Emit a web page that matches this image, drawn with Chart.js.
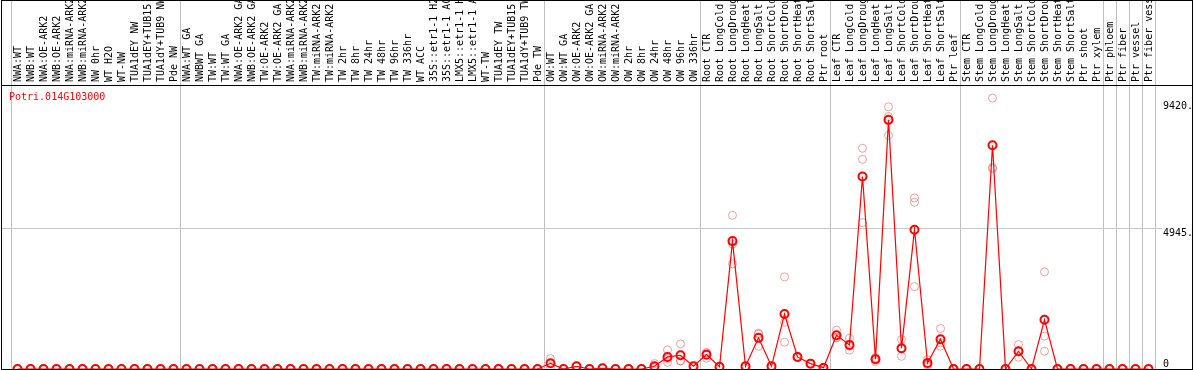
<!DOCTYPE html>
<html>
<head>
<meta charset="utf-8">
<script src="https://cdn.jsdelivr.net/npm/chart.js@4.4.1/dist/chart.umd.min.js"></script>
<style>
  html, body { margin: 0; padding: 0; background: #fff; }
  #wrap { width: 1194px; height: 370px; position: relative; }
</style>
</head>
<body>
<div id="wrap"><canvas id="exprChart"></canvas></div>
<script>
const geneName = "Potri.014G103000";

const samples = [
  "NWA:WT", "NWB:WT", "NWA:OE-ARK2", "NWB:OE-ARK2", "NWA:miRNA-ARK2", "NWB:miRNA-ARK2",
  "NW 0hr", "WT H2O", "WT-NW", "TUA1dEY NW", "TUA1dEY+TUB15 NW", "TUA1dY+TUB9 NW", "Pde NW",
  "NWA:WT GA", "NWBWT GA", "TW:WT", "TW:WT GA", "NWA:OE-ARK2 GA", "NWB:OE-ARK2 GA",
  "TW:OE-ARK2", "TW:OE-ARK2 GA", "NWA:miRNA-ARK2", "NWB:miRNA-ARK2", "TW:miRNA-ARK2", "TW:miRNA-ARK2",
  "TW 2hr", "TW 8hr", "TW 24hr", "TW 48hr", "TW 96hr", "TW 336hr", "WT ACC",
  "35S::etr1-1 H2O", "35S::etr1-1 ACC", "LMX5::etr1-1 H2O", "LMX5::etr1-1 ACC",
  "WT-TW", "TUA1dEY TW", "TUA1dEY+TUB15 TW", "TUA1dY+TUB9 TW", "Pde TW",
  "OW:WT", "OW:WT GA", "OW:OE-ARK2", "OW:OE-ARK2 GA", "OW:miRNA-ARK2", "OW:miRNA-ARK2",
  "OW 2hr", "OW 8hr", "OW 24hr", "OW 48hr", "OW 96hr", "OW 336hr",
  "Root CTR", "Root LongCold", "Root LongDrought", "Root LongHeat", "Root LongSalt",
  "Root ShortCold", "Root ShortDrought", "Root ShortHeat", "Root ShortSalt", "Ptr root",
  "Leaf CTR", "Leaf LongCold", "Leaf LongDrought", "Leaf LongHeat", "Leaf LongSalt",
  "Leaf ShortCold", "Leaf ShortDrought", "Leaf ShortHeat", "Leaf ShortSalt", "Ptr leaf",
  "Stem CTR", "Stem LongCold", "Stem LongDrought", "Stem LongHeat", "Stem LongSalt",
  "Stem ShortCold", "Stem ShortDrought", "Stem ShortHeat", "Stem ShortSalt", "Ptr shoot", "Ptr xylem",
  "Ptr phloem", "Ptr fiber", "Ptr vessel", "Ptr fiber vessel"
];

// mean expression per sample (the red line)
const meanExpr = [
  0, 0, 0, 0, 0, 0, 0, 0, 0, 0, 0, 0, 0,
  0, 0, 0, 0, 0, 0, 0, 0, 0, 0, 0, 0, 0, 0, 0, 0, 0, 0, 0, 0, 0, 0, 0, 0, 0, 0, 0, 0,
  200, 0, 95, 0, 25, 0, 0, 0, 95, 424, 483, 95,
  505, 80, 4497, 95, 1095, 95, 1932, 424, 188, 47,
  1189, 848, 6770, 342, 8759, 730, 4898, 212, 1048, 0,
  0, 0, 7865, 0, 625, 0, 1731, 0, 0, 0, 0,
  0, 0, 0, 0
];

// individual replicates (faint circles)
const rep1 = [
  0, 0, 0, 0, 0, 0, 0, 0, 0, 0, 0, 0, 0,
  0, 0, 0, 0, 0, 0, 0, 0, 0, 0, 0, 0, 0, 0, 0, 0, 0, 0, 0, 0, 0, 0, 0, 0, 0, 0, 0, 0,
  365, 0, 110, 0, 30, 0, 0, 0, 190, 671, 883, 95,
  378, 80, 5404, 95, 1225, 95, 3238, 450, 200, 47,
  1366, 1083, 7760, 400, 9219, 1036, 6016, 330, 1424, 0,
  0, 0, 9525, 0, 859, 0, 3415, 0, 0, 0, 0,
  0, 0, 0, 0
];
const rep2 = [
  0, 0, 0, 0, 0, 0, 0, 0, 0, 0, 0, 0, 0,
  0, 0, 0, 0, 0, 0, 0, 0, 0, 0, 0, 0, 0, 0, 0, 0, 0, 0, 0, 0, 0, 0, 0, 0, 0, 0, 0, 0,
  50, 0, 80, 0, 20, 0, 0, 0, 50, 236, 283, 95,
  560, 80, 4390, 95, 800, 95, 1636, 400, 180, 47,
  1106, 660, 7370, 259, 8877, 447, 5863, 141, 800, 0,
  0, 0, 7088, 0, 412, 0, 1154, 0, 0, 0, 0,
  0, 0, 0, 0
];
const rep3 = [
  0, 0, 0, 0, 0, 0, 0, 0, 0, 0, 0, 0, 0,
  0, 0, 0, 0, 0, 0, 0, 0, 0, 0, 0, 0, 0, 0, 0, 0, 0, 0, 0, 0, 0, 0, 0, 0, 0, 0, 0, 0,
  185, 0, 95, 0, 25, 0, 0, 0, 45, 365, 283, 95,
  577, 80, 3697, 95, 1260, 95, 943, 422, 185, 47,
  1095, 800, 5146, 367, 8219, 707, 2896, 165, 920, 0,
  0, 0, 7040, 0, 600, 0, 625, 0, 0, 0, 0,
  0, 0, 0, 0
];

const yTicks = [0, 4945, 9420];
const yTickText = ["0", "4945.", "9420."];
// sample index where each grey separator sits
const groupEdges = [0, 13, 41, 53, 63, 73, 84, 85, 86, 87, 88];

const monoFont = "'DejaVu Sans Mono', 'Liberation Mono', monospace";

const framePlugin = {
  id: "frame",
  beforeDatasetsDraw(chart) {
    const { ctx, chartArea } = chart;
    const x = chart.scales.x, y = chart.scales.y;
    ctx.save();
    ctx.strokeStyle = "#c0c0c0";
    ctx.lineWidth = 1;
    groupEdges.forEach(b => {
      const px = Math.round(x.getPixelForValue(b - 0.5)) + 0.5;
      ctx.beginPath();
      ctx.moveTo(px, 0);
      ctx.lineTo(px, chartArea.bottom);
      ctx.stroke();
    });
    const gy = Math.round(y.getPixelForValue(4945)) + 0.5;
    ctx.beginPath();
    ctx.moveTo(1, gy);
    ctx.lineTo(chartArea.left, gy);
    ctx.stroke();
    ctx.restore();
  },
  afterDraw(chart) {
    const { ctx, chartArea } = chart;
    ctx.save();
    ctx.strokeStyle = "#000";
    ctx.lineWidth = 1;
    ctx.strokeRect(1.5, 0.5, 1191, 369);
    ctx.beginPath();
    ctx.moveTo(1, chartArea.top - 0.5);
    ctx.lineTo(1193, chartArea.top - 0.5);
    ctx.stroke();
    ctx.fillStyle = "#ff0000";
    ctx.font = "10px " + monoFont;
    ctx.textBaseline = "middle";
    ctx.fillText(geneName, 9, 97);
    ctx.restore();
  }
};

const ctx = document.getElementById("exprChart").getContext("2d");

const repStyle = {
  type: "line",
  showLine: false,
  pointRadius: 4,
  pointBorderWidth: 1,
  pointBorderColor: "rgba(228, 110, 110, 0.65)",
  pointBackgroundColor: "rgba(0,0,0,0)",
  clip: false
};

const chart = new Chart(ctx, {
  type: "line",
  data: {
    labels: samples,
    datasets: [
      {
        label: "mean",
        data: meanExpr,
        borderColor: "#ff0000",
        borderWidth: 1.2,
        tension: 0,
        pointRadius: 4,
        pointBorderWidth: 2,
        pointBorderColor: "#ff0000",
        pointBackgroundColor: "rgba(0,0,0,0)",
        clip: false
      },
      Object.assign({ label: "rep1", data: rep1 }, repStyle),
      Object.assign({ label: "rep2", data: rep2 }, repStyle),
      Object.assign({ label: "rep3", data: rep3 }, repStyle)
    ]
  },
  options: {
    responsive: true,
    maintainAspectRatio: false,
    animation: false,
    layout: { autoPadding: false, padding: { left: 11, right: 1, top: 0, bottom: 1 } },
    scales: {
      x: {
        type: "category",
        position: "top",
        offset: true,
        grid: { display: false, drawTicks: false },
        border: { display: false },
        ticks: {
          autoSkip: false,
          minRotation: 90,
          maxRotation: 90,
          padding: 4,
          labelOffset: 13,
          color: "#000",
          font: { family: monoFont, size: 10 }
        },
        afterFit: s => {
          s.height = 86;
          s.paddingLeft = 0;
          s.paddingRight = 0;
        }
      },
      y: {
        position: "right",
        min: 0,
        max: 9950,
        afterBuildTicks: s => { s.ticks = yTicks.map(v => ({ value: v })); },
        afterFit: s => {
          s.width = 38;
          s.paddingTop = 0;
          s.paddingBottom = 0;
        },
        grid: {
          color: c => (c.tick && c.tick.value === 4945 ? "#c8c8c8" : "rgba(0,0,0,0)"),
          tickLength: 7
        },
        border: { display: false },
        ticks: {
          padding: 1,
          color: "#000",
          font: { family: monoFont, size: 10, lineHeight: 1 },
          callback: function (value) {
            const t = yTickText[yTicks.indexOf(value)];
            return value === 0 ? [t, ""] : ["", t];
          }
        }
      }
    },
    plugins: {
      legend: { display: false },
      tooltip: { enabled: false },
      title: { display: false }
    }
  },
  plugins: [framePlugin]
});
</script>
</body>
</html>
